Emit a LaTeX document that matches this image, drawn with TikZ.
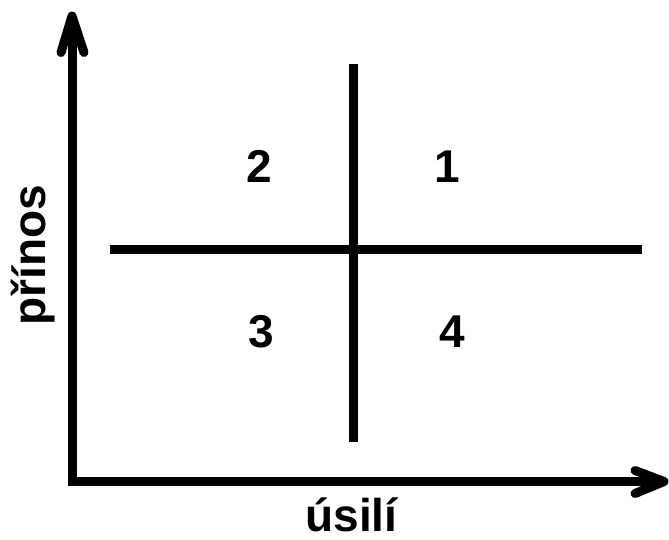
\documentclass[tikz,border=0pt]{standalone}
\usepackage{fontspec}
\setmainfont{Liberation Sans}
\begin{document}
\begin{tikzpicture}[x=1pt,y=-1pt,
  thickline/.style={line width=9pt,black},
  axisline/.style={thickline,line join=miter},
  wing/.style={thickline,line join=round,line cap=round},
  lbl/.style={font=\fontsize{46}{50}\selectfont\bfseries,inner sep=0pt,anchor=base}]
\fill[white] (0,0) rectangle (669,539);
\useasboundingbox (0,0) rectangle (669,539);
% axes
\coordinate (ytip) at (72,16);
\coordinate (origin) at (72,481.5);
\coordinate (xtip) at (664,481.5);
\coordinate (ywl) at (61,52.5);
\coordinate (ywr) at (84,52.5);
\coordinate (xwu) at (635,470.5);
\coordinate (xwd) at (635,493.5);
\draw[axisline] (ytip) -- (origin) -- (xtip);
\draw[wing] (ywl) -- (ytip) -- (ywr);
\draw[wing] (xwu) -- (xtip) -- (xwd);
% cross
\coordinate (vtop) at (353.5,64);
\coordinate (vbot) at (353.5,442);
\coordinate (hleft) at (110,249.5);
\coordinate (hright) at (642,249.5);
\draw[thickline] (vtop) -- (vbot);
\draw[thickline] (hleft) -- (hright);
% quadrant labels
\node[lbl] (q2) at (259.5,182) {2};
\node[lbl] (q1) at (447,182) {1};
\node[lbl] (q3) at (261,347) {3};
\node[lbl] (q4) at (452,347) {4};
% axis labels
\node[lbl,rotate=90] (ylab) at (45,255) {přínos};
\node[lbl] (xlab) at (351.5,531) {úsilí};
\end{tikzpicture}
\end{document}
